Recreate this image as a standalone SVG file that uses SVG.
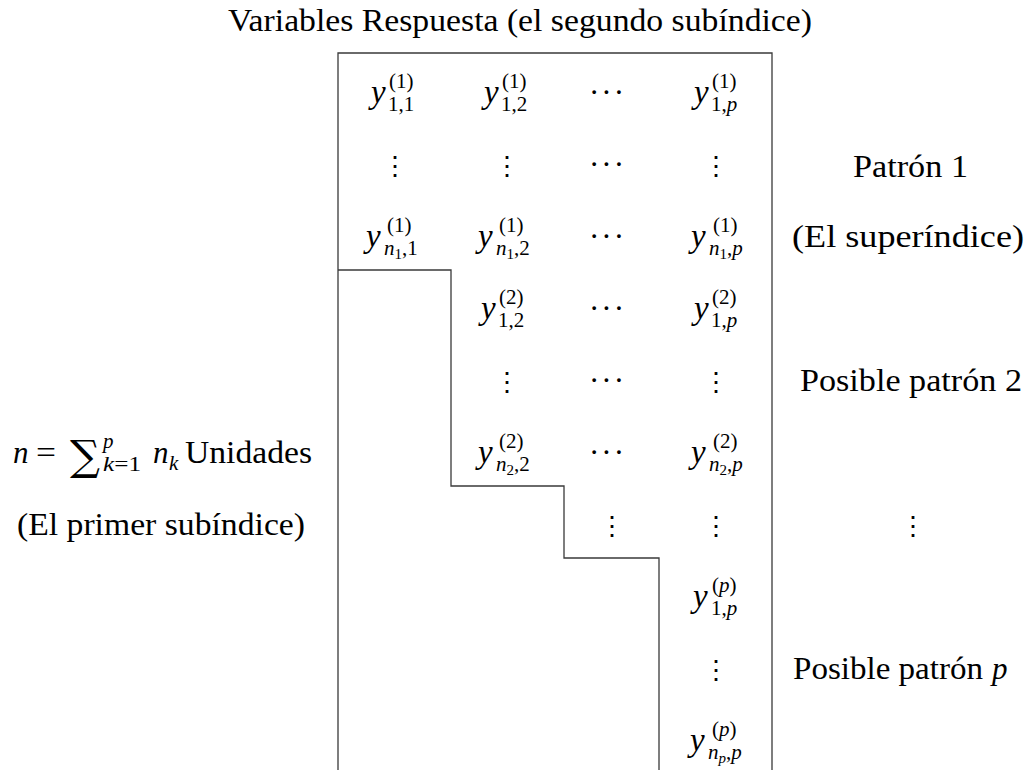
<svg xmlns="http://www.w3.org/2000/svg" width="1028" height="770" viewBox="0 0 1028 770">
  <style>
    text { font-family: "Liberation Serif", "DejaVu Serif", serif; fill: #000; }
    .t { font-size: 31px; }
    .y { font-size: 33px; font-style: italic; }
    .it { font-style: italic; }
    .s { font-size: 21px; }
    .ss { font-size: 15px; }
    .sum { font-family: "DejaVu Serif", serif; font-size: 42px; }
    .vd { font-family: "DejaVu Serif", serif; font-size: 26px; text-anchor: middle; }
    .cd { font-size: 31px; }
    .rule { fill: none; stroke: #3a3a3a; stroke-width: 1.3; }
  </style>

  <rect width="1028" height="770" fill="#fff"/>

  <!-- table rules -->
  <g id="rules">
    <path class="rule" d="M338,770 V53 H772 V770"/>
    <path class="rule" d="M338,270 H451 V486 H564 V558 H659 V770"/>
  </g>

  <!-- column heading -->
  <g id="heading">
    <text class="t" x="228" y="31" textLength="584" lengthAdjust="spacingAndGlyphs">Variables Respuesta (el segundo subíndice)</text>
  </g>

  <!-- row labels on the left -->
  <g id="units">
    <text class="t it" x="13" y="463">n</text>
    <text class="t" x="36" y="463" textLength="20" lengthAdjust="spacingAndGlyphs">=</text>
    <text class="sum" x="70" y="470">∑</text>
    <text class="s it" x="103" y="448">p</text>
    <text class="s" x="103" y="471" textLength="38" lengthAdjust="spacingAndGlyphs"><tspan class="it">k</tspan>=1</text>
    <text class="t it" x="153" y="463">n</text>
    <text class="s it" x="169" y="470">k</text>
    <text class="t" x="185" y="463" textLength="127" lengthAdjust="spacingAndGlyphs">Unidades</text>
    <text class="t" x="17" y="535" textLength="288" lengthAdjust="spacingAndGlyphs">(El primer subíndice)</text>
  </g>

  <!-- pattern labels on the right -->
  <g id="pattern-1">
    <text class="t" x="853" y="177" textLength="115" lengthAdjust="spacingAndGlyphs">Patrón 1</text>
    <text class="t" x="792" y="247" textLength="232" lengthAdjust="spacingAndGlyphs">(El superíndice)</text>
  </g>
  <g id="pattern-2">
    <text class="t" x="800" y="391" textLength="222" lengthAdjust="spacingAndGlyphs">Posible patrón 2</text>
  </g>
  <g id="pattern-more">
    <text class="vd" x="913" y="535">⋮</text>
  </g>
  <g id="pattern-p">
    <text class="t" x="793" y="679" textLength="190" lengthAdjust="spacingAndGlyphs">Posible patrón</text>
    <text class="t it" x="992" y="679">p</text>
  </g>

  <!-- block of pattern 1 -->
  <g id="block-1">
    <text class="y" x="371" y="103">y</text>
    <text class="s" x="389" y="88">(1)</text>
    <text class="s" x="388" y="111">1,1</text>

    <text class="y" x="484" y="103">y</text>
    <text class="s" x="502" y="88">(1)</text>
    <text class="s" x="501" y="111">1,2</text>

    <text class="cd" x="589" y="103" textLength="35" lengthAdjust="spacing">···</text>

    <text class="y" x="694" y="103">y</text>
    <text class="s" x="712" y="88">(1)</text>
    <text class="s" x="711" y="111">1,<tspan class="it">p</tspan></text>

    <text class="vd" x="395" y="175">⋮</text>
    <text class="vd" x="507" y="175">⋮</text>
    <text class="cd" x="589" y="175" textLength="35" lengthAdjust="spacing">···</text>
    <text class="vd" x="716" y="175">⋮</text>

    <text class="y" x="366" y="247">y</text>
    <text class="s" x="387" y="232">(1)</text>
    <text class="s" x="384" y="255"><tspan class="it">n</tspan><tspan class="ss" dy="4">1</tspan><tspan dy="-4">,1</tspan></text>

    <text class="y" x="478" y="247">y</text>
    <text class="s" x="499" y="232">(1)</text>
    <text class="s" x="496" y="255"><tspan class="it">n</tspan><tspan class="ss" dy="4">1</tspan><tspan dy="-4">,2</tspan></text>

    <text class="cd" x="589" y="247" textLength="35" lengthAdjust="spacing">···</text>

    <text class="y" x="691" y="247">y</text>
    <text class="s" x="713" y="232">(1)</text>
    <text class="s" x="709" y="255"><tspan class="it">n</tspan><tspan class="ss" dy="4">1</tspan><tspan dy="-4">,</tspan><tspan class="it">p</tspan></text>
  </g>

  <!-- block of pattern 2 -->
  <g id="block-2">
    <text class="y" x="481" y="319">y</text>
    <text class="s" x="499" y="304">(2)</text>
    <text class="s" x="498" y="327">1,2</text>

    <text class="cd" x="589" y="319" textLength="35" lengthAdjust="spacing">···</text>

    <text class="y" x="694" y="319">y</text>
    <text class="s" x="712" y="304">(2)</text>
    <text class="s" x="711" y="327">1,<tspan class="it">p</tspan></text>

    <text class="vd" x="507" y="391">⋮</text>
    <text class="cd" x="589" y="391" textLength="35" lengthAdjust="spacing">···</text>
    <text class="vd" x="716" y="391">⋮</text>

    <text class="y" x="478" y="463">y</text>
    <text class="s" x="499" y="448">(2)</text>
    <text class="s" x="496" y="471"><tspan class="it">n</tspan><tspan class="ss" dy="4">2</tspan><tspan dy="-4">,2</tspan></text>

    <text class="cd" x="589" y="463" textLength="35" lengthAdjust="spacing">···</text>

    <text class="y" x="691" y="463">y</text>
    <text class="s" x="713" y="448">(2)</text>
    <text class="s" x="709" y="471"><tspan class="it">n</tspan><tspan class="ss" dy="4">2</tspan><tspan dy="-4">,</tspan><tspan class="it">p</tspan></text>
  </g>

  <!-- intermediate patterns -->
  <g id="block-more">
    <text class="vd" x="612" y="535">⋮</text>
    <text class="vd" x="716" y="535">⋮</text>
  </g>

  <!-- block of pattern p -->
  <g id="block-p">
    <text class="y" x="693" y="607">y</text>
    <text class="s" x="712" y="592">(<tspan class="it">p</tspan>)</text>
    <text class="s" x="711" y="615">1,<tspan class="it">p</tspan></text>

    <text class="vd" x="716" y="679">⋮</text>

    <text class="y" x="690" y="751">y</text>
    <text class="s" x="712" y="736">(<tspan class="it">p</tspan>)</text>
    <text class="s" x="708" y="759"><tspan class="it">n</tspan><tspan class="ss it" dy="4">p</tspan><tspan dy="-4">,</tspan><tspan class="it">p</tspan></text>
  </g>
</svg>
